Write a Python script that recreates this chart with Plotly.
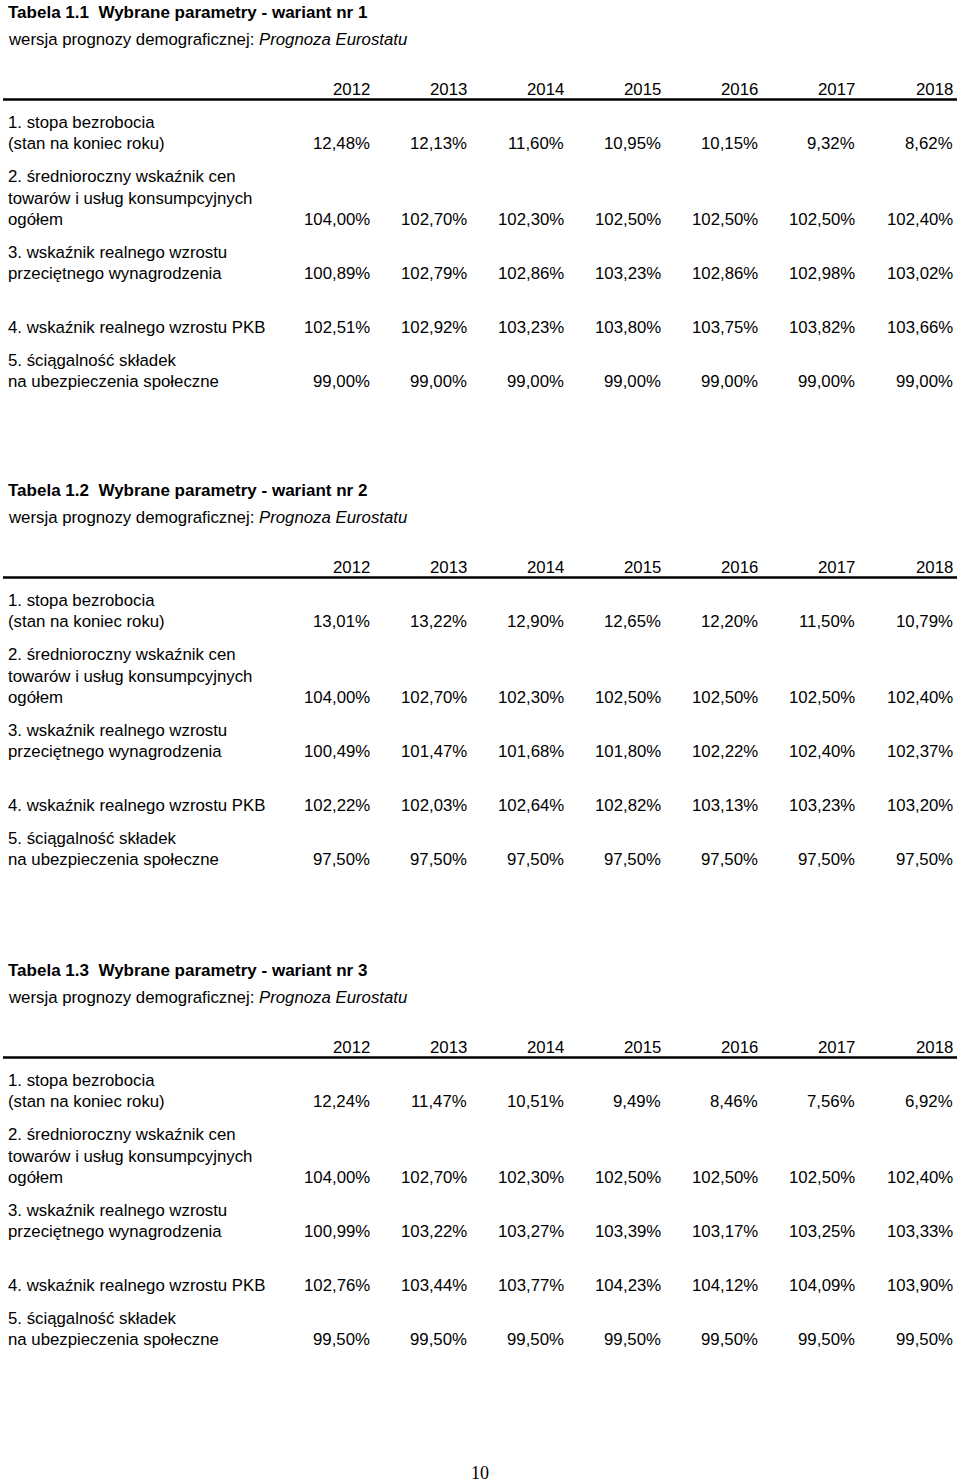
import plotly.graph_objects as go

# ---------------- data ----------------
years = [2012, 2013, 2014, 2015, 2016, 2017, 2018]

table_titles = [
    "Tabela 1.1  Wybrane parametry - wariant nr 1",
    "Tabela 1.2  Wybrane parametry - wariant nr 2",
    "Tabela 1.3  Wybrane parametry - wariant nr 3",
]
subtitle_plain = "wersja prognozy demograficznej: "
subtitle_italic = "Prognoza Eurostatu"

row_labels = [
    ["1. stopa bezrobocia", "(stan na koniec roku)"],
    ["2. średnioroczny wskaźnik cen", "towarów i usług konsumpcyjnych", "ogółem"],
    ["3. wskaźnik realnego wzrostu", "przeciętnego wynagrodzenia"],
    ["4. wskaźnik realnego wzrostu PKB"],
    ["5. ściągalność składek", "na ubezpieczenia społeczne"],
]

# wariant nr 1
unemployment_1 = [12.48, 12.13, 11.60, 10.95, 10.15, 9.32, 8.62]
cpi_1 = [104.00, 102.70, 102.30, 102.50, 102.50, 102.50, 102.40]
wage_1 = [100.89, 102.79, 102.86, 103.23, 102.86, 102.98, 103.02]
gdp_1 = [102.51, 102.92, 103.23, 103.80, 103.75, 103.82, 103.66]
collection_1 = [99.00, 99.00, 99.00, 99.00, 99.00, 99.00, 99.00]

# wariant nr 2
unemployment_2 = [13.01, 13.22, 12.90, 12.65, 12.20, 11.50, 10.79]
cpi_2 = [104.00, 102.70, 102.30, 102.50, 102.50, 102.50, 102.40]
wage_2 = [100.49, 101.47, 101.68, 101.80, 102.22, 102.40, 102.37]
gdp_2 = [102.22, 102.03, 102.64, 102.82, 103.13, 103.23, 103.20]
collection_2 = [97.50, 97.50, 97.50, 97.50, 97.50, 97.50, 97.50]

# wariant nr 3
unemployment_3 = [12.24, 11.47, 10.51, 9.49, 8.46, 7.56, 6.92]
cpi_3 = [104.00, 102.70, 102.30, 102.50, 102.50, 102.50, 102.40]
wage_3 = [100.99, 103.22, 103.27, 103.39, 103.17, 103.25, 103.33]
gdp_3 = [102.76, 103.44, 103.77, 104.23, 104.12, 104.09, 103.90]
collection_3 = [99.50, 99.50, 99.50, 99.50, 99.50, 99.50, 99.50]

tables = [
    [unemployment_1, cpi_1, wage_1, gdp_1, collection_1],
    [unemployment_2, cpi_2, wage_2, gdp_2, collection_2],
    [unemployment_3, cpi_3, wage_3, gdp_3, collection_3],
]
page_number = "10"

# ---------------- layout (pixel coordinates) ----------------
W, H = 960, 1483
FONT = "Liberation Sans, Arial, sans-serif"
FS = 16.8
table_offsets = [0, 478, 958]
col_right = [372, 469, 566, 663, 760, 857, 955]
title_y, subtitle_y, years_y, rule_y = 12, 39, 89, 99.5
# y positions of label lines for each row (last line carries the values)
row_line_y = [[122, 143], [176, 198, 219], [252, 273], [327], [360, 381]]
left_x = 6


def fmt(v):
    return f"{v:.2f}".replace(".", ",") + "%"


annotations = []
shapes = []


def txt(x, y, s, anchor="left", size=FS, family=FONT):
    annotations.append(dict(
        x=x, y=y, xref="x", yref="y", text=s, showarrow=False,
        xanchor=anchor, yanchor="middle",
        font=dict(family=family, size=size, color="black"),
    ))


for t, off in enumerate(table_offsets):
    txt(left_x, title_y + off, "<b>" + table_titles[t] + "</b>", size=17)
    txt(left_x, subtitle_y + off, subtitle_plain + "<i>" + subtitle_italic + "</i>")
    for c, yr in enumerate(years):
        txt(col_right[c], years_y + off, str(yr), anchor="right")
    shapes.append(dict(type="line", xref="x", yref="y", x0=3, x1=957,
                       y0=rule_y + off, y1=rule_y + off,
                       line=dict(color="black", width=2.5)))
    for r, lines in enumerate(row_labels):
        ys = row_line_y[r]
        for li, line in enumerate(lines):
            txt(left_x, ys[li] + off, line)
        for c, v in enumerate(tables[t][r]):
            txt(col_right[c], ys[-1] + off, fmt(v), anchor="right")

txt(480, 1473, page_number, anchor="center", size=18,
    family="Liberation Serif, Times New Roman, serif")

fig = go.Figure()
fig.add_trace(go.Scatter(x=[0, W], y=[0, H], mode="markers",
                         marker=dict(opacity=0), hoverinfo="skip",
                         showlegend=False))
fig.update_layout(
    width=W, height=H,
    margin=dict(l=0, r=0, t=0, b=0),
    paper_bgcolor="white", plot_bgcolor="white",
    xaxis=dict(range=[0, W], visible=False, fixedrange=True),
    yaxis=dict(range=[H, 0], visible=False, fixedrange=True),
    annotations=annotations, shapes=shapes,
    showlegend=False,
)
fig.write_html(
    "out.html",
    config={"displayModeBar": False},
    post_script="document.body.style.margin='0';document.body.style.overflow='hidden';",
)
